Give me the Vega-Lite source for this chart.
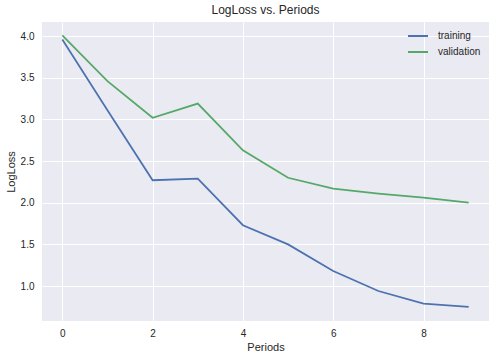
{
  "$schema": "https://vega.github.io/schema/vega-lite/v6.json",
  "width": 447,
  "height": 299,
  "autosize": {"type": "none"},
  "padding": {"left": 42, "top": 22, "right": 6, "bottom": 38},
  "background": "white",
  "title": {"text": "LogLoss vs. Periods", "fontSize": 12, "font": "Liberation Sans", "fontWeight": "normal", "color": "#262626", "anchor": "middle", "offset": 5},
  "data": {
    "values": [
      {"period": 0, "series": "training", "logloss": 3.96},
      {"period": 1, "series": "training", "logloss": 3.11},
      {"period": 2, "series": "training", "logloss": 2.27},
      {"period": 3, "series": "training", "logloss": 2.29},
      {"period": 4, "series": "training", "logloss": 1.73},
      {"period": 5, "series": "training", "logloss": 1.50},
      {"period": 6, "series": "training", "logloss": 1.18},
      {"period": 7, "series": "training", "logloss": 0.94},
      {"period": 8, "series": "training", "logloss": 0.79},
      {"period": 9, "series": "training", "logloss": 0.75},
      {"period": 0, "series": "validation", "logloss": 4.01},
      {"period": 1, "series": "validation", "logloss": 3.46},
      {"period": 2, "series": "validation", "logloss": 3.02},
      {"period": 3, "series": "validation", "logloss": 3.19},
      {"period": 4, "series": "validation", "logloss": 2.63},
      {"period": 5, "series": "validation", "logloss": 2.30},
      {"period": 6, "series": "validation", "logloss": 2.17},
      {"period": 7, "series": "validation", "logloss": 2.11},
      {"period": 8, "series": "validation", "logloss": 2.06},
      {"period": 9, "series": "validation", "logloss": 2.00}
    ]
  },
  "mark": {"type": "line", "strokeWidth": 1.75},
  "encoding": {
    "x": {
      "field": "period", "type": "quantitative",
      "scale": {"domain": [-0.45, 9.45], "nice": false, "zero": false},
      "axis": {"values": [0, 2, 4, 6, 8], "title": "Periods", "format": "d", "labelPadding": 7, "titlePadding": 3}
    },
    "y": {
      "field": "logloss", "type": "quantitative",
      "scale": {"domain": [0.58, 4.17], "nice": false, "zero": false},
      "axis": {"values": [1.0, 1.5, 2.0, 2.5, 3.0, 3.5, 4.0], "format": ".1f", "title": "LogLoss", "labelPadding": 8, "titlePadding": 4}
    },
    "color": {
      "field": "series", "type": "nominal",
      "scale": {"domain": ["training", "validation"], "range": ["#4C72B0", "#55A868"]},
      "legend": {
        "title": null, "orient": "none", "legendX": 365, "legendY": 3,
        "symbolType": "stroke", "symbolSize": 400, "symbolStrokeWidth": 2,
        "labelFontSize": 10, "labelFont": "Liberation Sans", "labelColor": "#262626",
        "labelOffset": 9, "rowPadding": -5
      }
    }
  },
  "config": {
    "view": {"fill": "#EAEAF2", "stroke": null},
    "axis": {
      "grid": true, "gridColor": "white", "gridWidth": 1, "gridOpacity": 1,
      "domain": false, "ticks": false, "tickSize": 0,
      "labelFont": "Liberation Sans", "labelFontSize": 10, "labelColor": "#262626",
      "titleFont": "Liberation Sans", "titleFontSize": 11, "titleFontWeight": "normal", "titleColor": "#262626"
    }
  }
}
